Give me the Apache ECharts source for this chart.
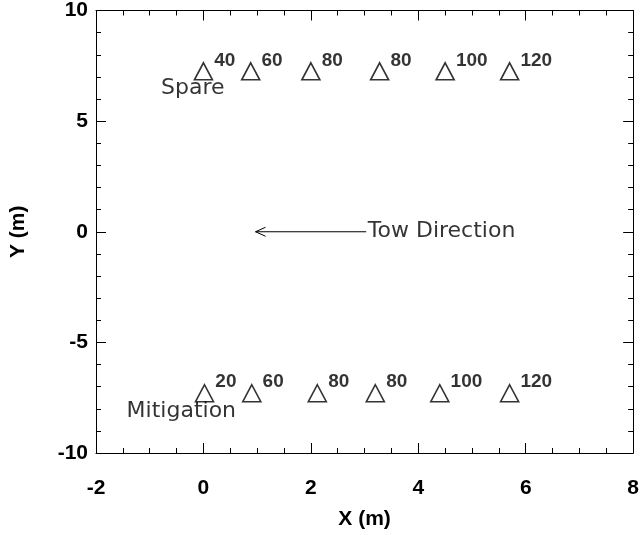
<!DOCTYPE html>
<html>
<head>
<meta charset="utf-8">
<script src="https://cdn.jsdelivr.net/npm/echarts@6/dist/echarts.min.js"></script>
<style>html,body{margin:0;padding:0;background:#fff}#c{width:642px;height:535px}</style>
</head>
<body>
<div id="c"></div>
<script>
const spareX = [0, 0.88, 2.0, 3.28, 4.5, 5.7];
const spareY = [7.25, 7.25, 7.25, 7.25, 7.25, 7.25];
const spareLabels = ['40', '60', '80', '80', '100', '120'];
const mitX = [0.02, 0.9, 2.12, 3.2, 4.4, 5.7];
const mitY = [-7.3, -7.3, -7.3, -7.3, -7.3, -7.3];
const mitLabels = ['20', '60', '80', '80', '100', '120'];
const textNotes = [
  {name: 'Spare', x: -0.79, y: 6.5},
  {name: 'Mitigation', x: -1.43, y: -8.1},
  {name: 'Tow Direction', x: 3.06, y: 0}
];
const arrowSeg = [[3.03, 0, 0.97, 0]];

const FONT = 'Liberation Sans';
const tickFont = {fontFamily: FONT, fontSize: 21, fontWeight: 'bold', color: '#000'};

function pts(xs, ys, labs) {
  return xs.map((x, i) => ({value: [x, ys[i]], lab: labs[i]}));
}
const axLine = {show: true, onZero: false, lineStyle: {color: '#000', width: 1}};
const xBase = {type: 'value', min: -2, max: 8, interval: 2, splitLine: {show: false},
  axisLine: axLine,
  axisTick: {show: true, inside: true, length: 10, lineStyle: {color: '#000'}},
  minorTick: {show: true, splitNumber: 4, length: 5, lineStyle: {color: '#000'}}};
const yBase = {type: 'value', min: -10, max: 10, interval: 5, splitLine: {show: false},
  axisLine: axLine,
  axisTick: {show: true, inside: true, length: 10, lineStyle: {color: '#000'}},
  minorTick: {show: true, splitNumber: 5, length: 5, lineStyle: {color: '#000'}}};

const triStyle = {
  type: 'scatter', symbol: 'triangle', symbolSize: [18, 17],
  itemStyle: {color: 'rgba(0,0,0,0)', borderColor: '#000', borderWidth: 1.6},
  label: {show: true, position: 'right', distance: 1, offset: [0, -11],
    formatter: p => p.data.lab, fontFamily: FONT, fontSize: 19, fontWeight: 'bold', color: '#000'},
  emphasis: {disabled: true}
};

const option = {
  animation: false,
  backgroundColor: '#fff',
  grid: {left: 96, top: 7, right: 1, bottom: 82, containLabel: false},
  xAxis: [
    Object.assign({}, xBase, {position: 'bottom', name: 'X (m)', nameLocation: 'middle', nameGap: 56,
      nameTextStyle: {fontFamily: FONT, fontSize: 21, fontWeight: 'bold', color: '#000'},
      axisLabel: Object.assign({margin: 25}, tickFont)}),
    Object.assign({}, xBase, {position: 'top', axisLabel: {show: false}})
  ],
  yAxis: [
    Object.assign({}, yBase, {position: 'left', name: 'Y (m)', nameLocation: 'middle', nameGap: 67,
      nameTextStyle: {fontFamily: FONT, fontSize: 21, fontWeight: 'bold', color: '#000'},
      axisLabel: Object.assign({margin: 8}, tickFont)}),
    Object.assign({}, yBase, {position: 'right', axisLabel: {show: false}})
  ],
  series: [
    Object.assign({}, triStyle, {name: 'Spare', data: pts(spareX, spareY, spareLabels)}),
    Object.assign({}, triStyle, {name: 'Mitigation', data: pts(mitX, mitY, mitLabels)}),
    {
      type: 'scatter', symbolSize: 0, silent: true,
      data: textNotes.map(t => ({value: [t.x, t.y], name: t.name})),
      label: {show: true, position: 'right', distance: 0, formatter: p => p.name,
        fontFamily: 'DejaVu Sans', fontSize: 22, color: '#000'}
    },
    {
      type: 'custom', silent: true, data: arrowSeg,
      renderItem: function (params, api) {
        const p0 = api.coord([api.value(0), api.value(1)]);
        const p1 = api.coord([api.value(2), api.value(3)]);
        return {type: 'group', children: [
          {type: 'line', shape: {x1: p0[0], y1: p0[1], x2: p1[0], y2: p1[1]},
            style: {stroke: '#000', lineWidth: 1}},
          {type: 'polyline', shape: {points: [[p1[0] + 10, p1[1] - 4.5], [p1[0], p1[1]], [p1[0] + 10, p1[1] + 4.5]]},
            style: {stroke: '#000', fill: null, lineWidth: 1}}
        ]};
      }
    }
  ]
};
echarts.init(document.getElementById('c'), null, {renderer: 'canvas'}).setOption(option);
</script>
</body>
</html>
